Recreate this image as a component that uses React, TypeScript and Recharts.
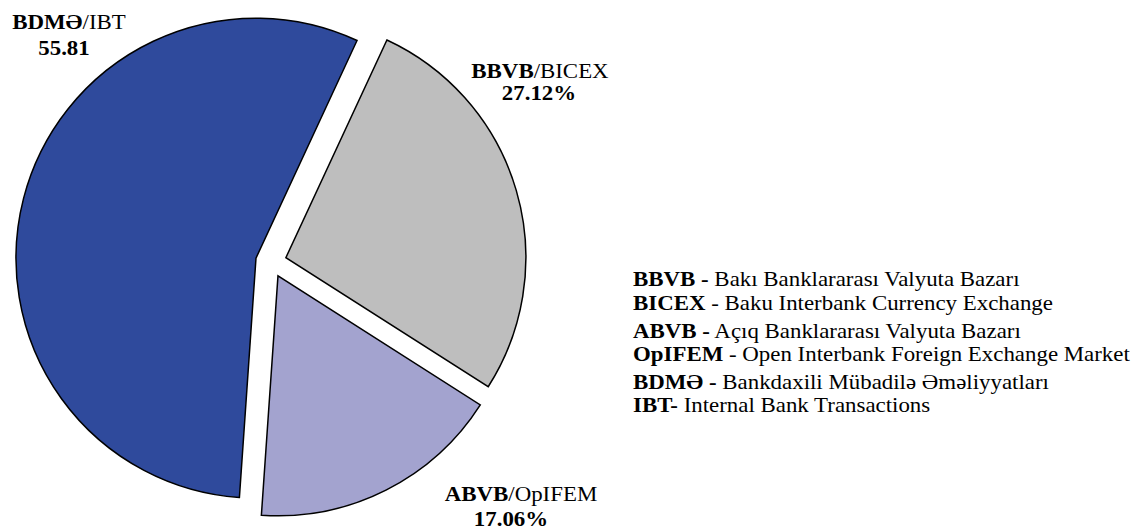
import React from "react";
import { PieChart, Pie, Cell, Sector } from "recharts";

// slice order: clockwise from the upper edge of the grey slice
const NAMES_BOLD = ["BBVB", "ABVB", "BDMƏ"];
const NAMES_REST = ["/BICEX", "/OpIFEM", "/IBT"];
const SHARES = [27.12, 17.06, 55.81];
const SHARE_LABELS = ["27.12%", "17.06%", "55.81"];
const COLORS = ["#BEBEBE", "#A3A3CF", "#2F4A9C"];

const GLOSSARY = [
  ["BBVB -", " Bakı Banklararası Valyuta Bazarı"],
  ["BICEX", " - Baku Interbank Currency Exchange"],
  ["ABVB -", " Açıq Banklararası Valyuta Bazarı"],
  ["OpIFEM", " - Open Interbank Foreign Exchange Market"],
  ["BDMƏ -", " Bankdaxili Mübadilə Əməliyyatları"],
  ["IBT-", " Internal Bank Transactions"],
];

const data = SHARES.map((v, i) => ({ name: NAMES_BOLD[i], value: v }));

const FONT = "'Liberation Serif', 'Times New Roman', serif";
const EXPLODE = 15.5;
const RAD = Math.PI / 180;

// label anchor relative to pie centre (first line baseline), second line shift
const LABEL_POS = [
  { dx: 269, dy: -184, dx2: -1, gap: 22 },
  { dx: 250, dy: 239, dx2: -10, gap: 25 },
  { dx: -202, dy: -233, dx2: -5, gap: 26 },
];
const LABEL_STRETCH = 1.04;
const LEGEND_STRETCH = 1.09;

function ExplodedSector(props: any) {
  const { cx, cy, midAngle } = props;
  const dx = EXPLODE * Math.cos(-midAngle * RAD);
  const dy = EXPLODE * Math.sin(-midAngle * RAD);
  return <Sector {...props} cx={cx + dx} cy={cy + dy} />;
}

function renderLabel(props: any) {
  const { cx, cy, index } = props;
  const p = LABEL_POS[index];
  const x = cx + p.dx;
  const y = cy + p.dy;
  const x2 = x + p.dx2;
  return (
    <g key={`lbl-${index}`}>
      <text
        x={x}
        y={y}
        textAnchor="middle"
        fontFamily={FONT}
        fontSize={22}
        fill="#000"
        transform={`translate(${x} 0) scale(${LABEL_STRETCH} 1) translate(${-x} 0)`}
      >
        <tspan fontWeight="bold">{NAMES_BOLD[index]}</tspan>
        <tspan>{NAMES_REST[index]}</tspan>
      </text>
      <text
        x={x2}
        y={y + p.gap}
        textAnchor="middle"
        fontFamily={FONT}
        fontSize={22}
        fontWeight="bold"
        fill="#000"
        transform={`translate(${x2} 0) scale(${LABEL_STRETCH} 1) translate(${-x2} 0)`}
      >
        {SHARE_LABELS[index]}
      </text>
    </g>
  );
}

const LINE_Y = [286, 310, 338, 361, 389, 412];
const LEGEND_X = 633;

export default function App() {
  return (
    <div style={{ position: "absolute", left: 0, top: 0, width: 1136, height: 530, background: "#fff" }}>
      <PieChart width={630} height={530} margin={{ top: 0, right: 0, bottom: 0, left: 0 }}>
        <Pie
          data={data}
          dataKey="value"
          nameKey="name"
          cx={271}
          cy={262}
          outerRadius={240}
          startAngle={65.1}
          endAngle={-294.9}
          stroke="#000"
          strokeWidth={1.5}
          shape={ExplodedSector}
          activeShape={ExplodedSector}
          inactiveShape={ExplodedSector}
          label={renderLabel}
          labelLine={false}
          isAnimationActive={false}
        >
          {data.map((d, i) => (
            <Cell key={d.name} fill={COLORS[i]} />
          ))}
        </Pie>
      </PieChart>
      <svg width={1136} height={530} style={{ position: "absolute", left: 0, top: 0, pointerEvents: "none" }}>
        <g transform={`translate(${LEGEND_X} 0) scale(${LEGEND_STRETCH} 1)`}>
          {GLOSSARY.map(([b, r], i) => (
            <text key={b} x={0} y={LINE_Y[i]} fontFamily={FONT} fontSize={21} fill="#000">
              <tspan fontWeight="bold">{b}</tspan>
              <tspan>{r}</tspan>
            </text>
          ))}
        </g>
      </svg>
    </div>
  );
}
